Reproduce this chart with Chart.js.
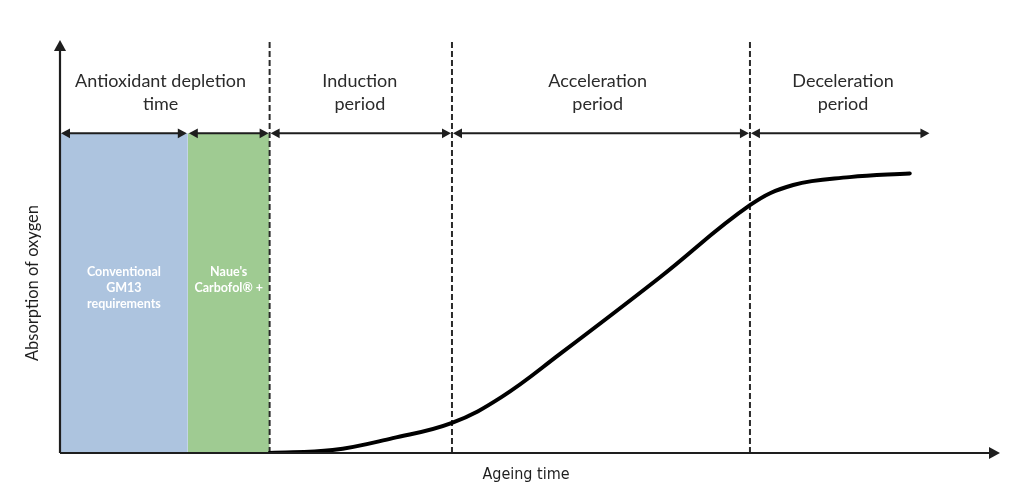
<!DOCTYPE html>
<html><head><meta charset="utf-8">
<script src="https://cdn.jsdelivr.net/npm/chart.js@4"></script>
<style>html,body{margin:0;padding:0;background:#fff}#wrap{width:1024px;height:499px}</style>
</head><body><div id="wrap"><canvas id="c"></canvas></div>
<script>
// Phase boundaries along ageing time (arbitrary units)
const phaseBounds = [0, 13.6, 22.3, 41.7, 73.4, 92.6];
const dashedAt = [22.3, 41.7, 73.4];
const phaseLabels = [["Antioxidant depletion","time"],["Induction","period"],["Acceleration","period"],["Deceleration","period"]];
const phaseLabelX = [10.7, 31.9, 57.2, 83.3];
const arrowLevel = 77.4;
// Oxygen absorption curve
const curveX = [22.3, 29.0, 35.4, 41.7, 47.0, 53.2, 63.8, 73.4, 78.0, 84.0, 90.4];
const curveY = [0, 0.7, 3.6, 7.3, 13.6, 24.0, 42.5, 60.0, 64.9, 66.8, 67.7];
const boxLabels = [["Conventional","GM13","requirements"],["Naue's","Carbofol® +"]];
const xTitle = "Ageing time";
const yTitle = "Absorption of oxygen";

const datasets = [
  {data:[{x:phaseBounds[0],y:arrowLevel},{x:phaseBounds[1],y:arrowLevel}], fill:'origin', backgroundColor:'#adc4df', borderWidth:0, pointRadius:0, order:5},
  {data:[{x:phaseBounds[1],y:arrowLevel},{x:phaseBounds[2],y:arrowLevel}], fill:'origin', backgroundColor:'#9fcb92', borderWidth:0, pointRadius:0, order:5},
];
dashedAt.forEach(v=>datasets.push({data:[{x:v,y:0},{x:v,y:100}], borderColor:'#2a2a2a', borderWidth:2, borderDash:[6,3], pointRadius:0, fill:false, order:3}));
datasets.push({data:curveX.map((x,i)=>({x,y:curveY[i]})), borderColor:'#000', borderWidth:4, pointRadius:0, fill:false, tension:0.4, borderCapStyle:'round', order:1});

function arrowHead(ctx,x,y,dir,size){
  ctx.beginPath();
  if(dir==='r'){ctx.moveTo(x,y);ctx.lineTo(x-size,y-size*0.55);ctx.lineTo(x-size,y+size*0.55);}
  else if(dir==='l'){ctx.moveTo(x,y);ctx.lineTo(x+size,y-size*0.55);ctx.lineTo(x+size,y+size*0.55);}
  else {ctx.moveTo(x,y);ctx.lineTo(x-size*0.55,y+size);ctx.lineTo(x+size*0.55,y+size);}
  ctx.closePath();ctx.fill();
}

const deco = {
  id:'deco',
  afterDatasetsDraw(chart){
    const {ctx, scales:{x,y}} = chart;
    ctx.save();
    ctx.fillStyle='#1e1e1e'; ctx.strokeStyle='#1e1e1e';
    const x0=x.getPixelForValue(0), y0=y.getPixelForValue(0);
    ctx.lineWidth=2.2;
    ctx.beginPath();ctx.moveTo(x0,y0);ctx.lineTo(x0,y.getPixelForValue(100)+8);ctx.stroke();
    arrowHead(ctx,x0,y.getPixelForValue(100),'u',11);
    ctx.beginPath();ctx.moveTo(x0,y0);ctx.lineTo(x.getPixelForValue(100)-8,y0);ctx.stroke();
    arrowHead(ctx,x.getPixelForValue(100),y0,'r',11);
    const ay=y.getPixelForValue(arrowLevel);
    ctx.lineWidth=2;
    for(let i=0;i<phaseBounds.length-1;i++){
      const a=x.getPixelForValue(phaseBounds[i])+1, b=x.getPixelForValue(phaseBounds[i+1])-1;
      ctx.beginPath();ctx.moveTo(a+5,ay);ctx.lineTo(b-5,ay);ctx.stroke();
      arrowHead(ctx,a,ay,'l',9);arrowHead(ctx,b,ay,'r',9);
    }
    ctx.fillStyle='#2b2b2b';ctx.font='18px Lato';ctx.textAlign='center';ctx.textBaseline='middle';
    phaseLabels.forEach((l,i)=>{const px=x.getPixelForValue(phaseLabelX[i]);l.forEach((t,j)=>ctx.fillText(t,px,y.getPixelForValue(100)+41+j*23));});
    ctx.fillStyle='#fff';ctx.font='bold 12.5px Lato';
    boxLabels.forEach((l,i)=>{const px=(x.getPixelForValue(phaseBounds[i])+x.getPixelForValue(phaseBounds[i+1]))/2;l.forEach((t,j)=>ctx.fillText(t,px,272+j*16));});
    ctx.fillStyle='#1e1e1e';ctx.font='16px "Liberation Sans Narrow", "DejaVu Sans Condensed", sans-serif';
    ctx.fillText(xTitle,(x0+x.getPixelForValue(100))/2-4,y0+22);
    ctx.translate(33,283);ctx.rotate(-Math.PI/2);ctx.font='16.5px Lato';ctx.fillText(yTitle,0,0);
    ctx.restore();
  }
};

new Chart(document.getElementById('c'),{
  type:'line',
  data:{datasets},
  options:{
    responsive:true, maintainAspectRatio:false, animation:false,
    layout:{padding:{left:60,right:24,top:40,bottom:46}},
    plugins:{legend:{display:false},tooltip:{enabled:false}},
    scales:{
      x:{type:'linear',min:0,max:100,display:false},
      y:{type:'linear',min:0,max:100,display:false}
    }
  },
  plugins:[deco]
});
</script></body></html>
